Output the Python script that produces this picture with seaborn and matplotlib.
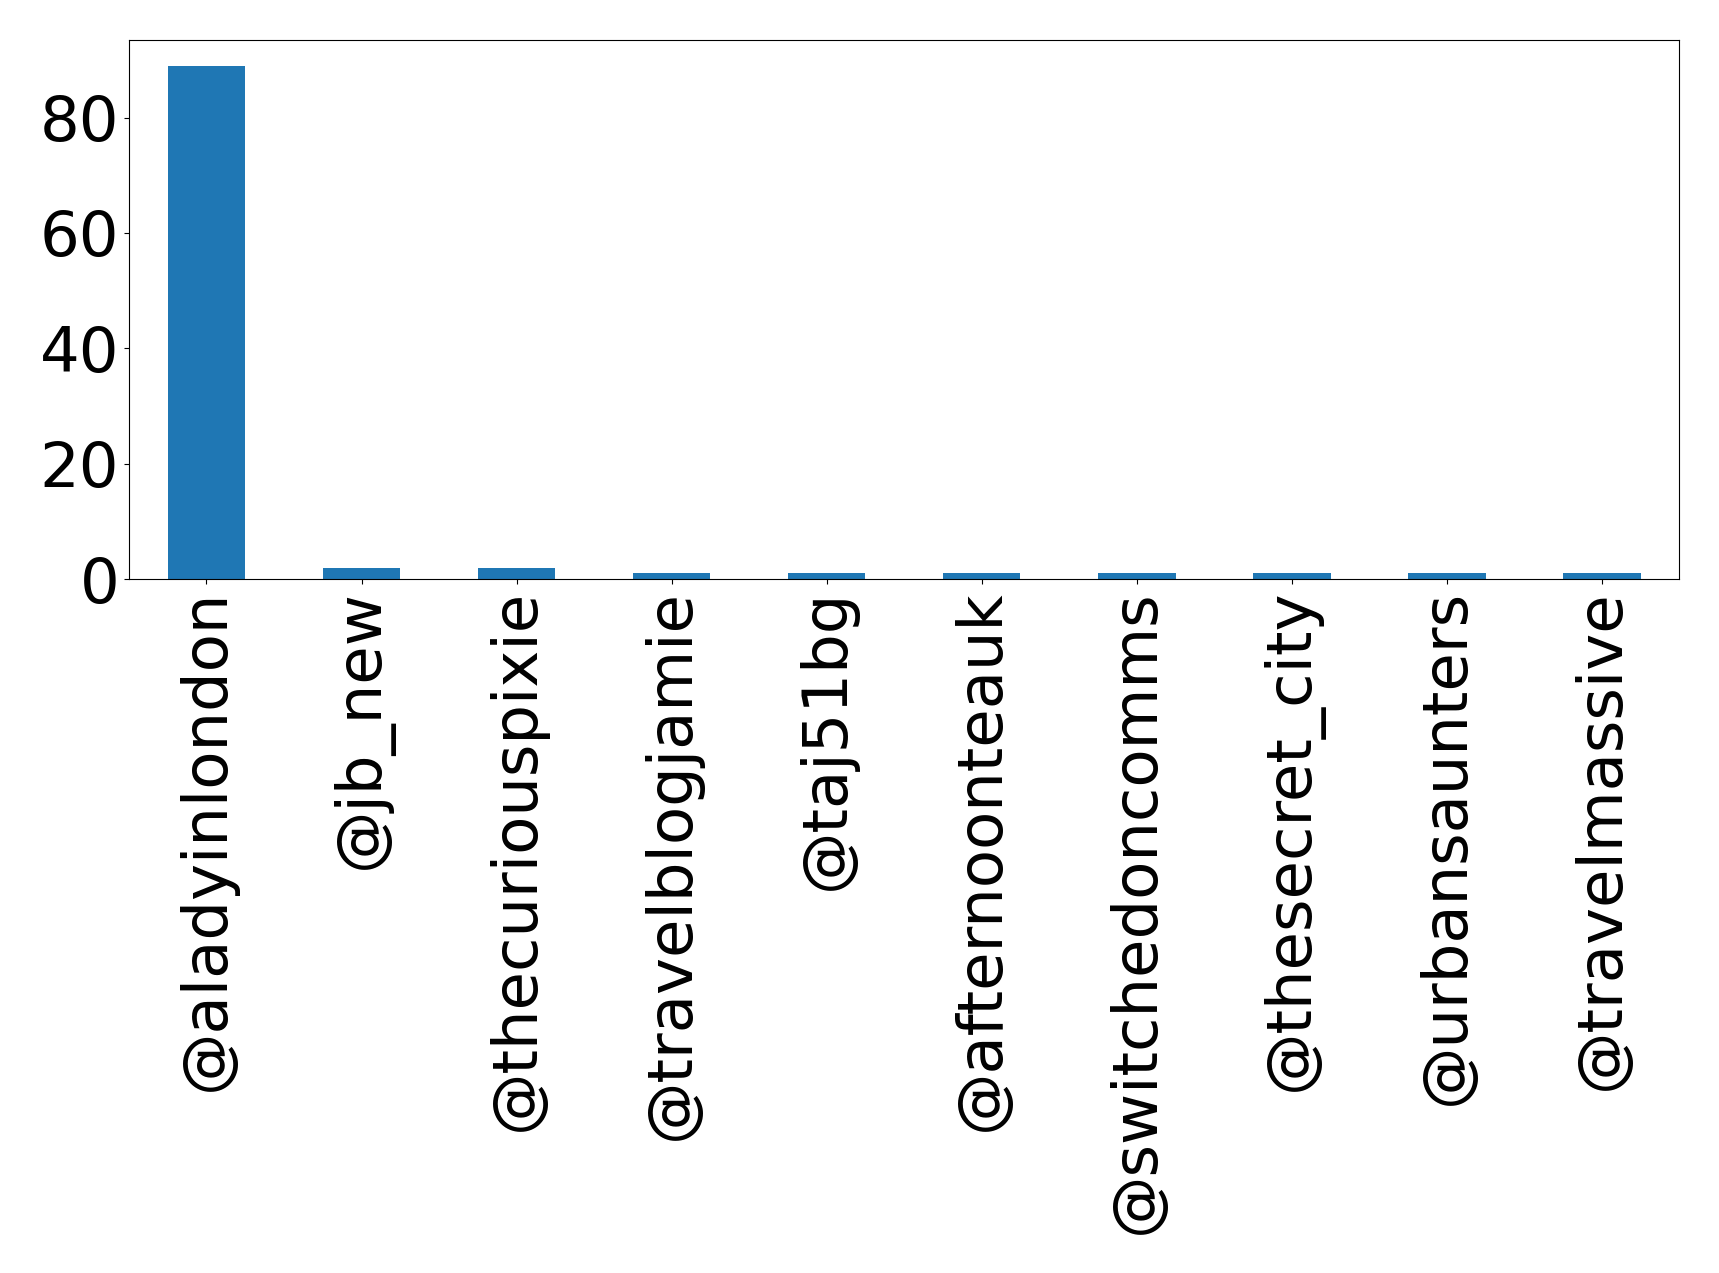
import pandas as pd
import matplotlib
matplotlib.use("Agg")
import matplotlib.pyplot as plt
from matplotlib.ticker import MultipleLocator
import seaborn as sns

# ---- data
handles = [
    "@aladyinlondon", "@jb_new", "@thecuriouspixie", "@travelblogjamie",
    "@taj51bg", "@afternoonteauk", "@switchedoncomms", "@thesecret_city",
    "@urbansaunters", "@travelmassive",
]
counts = [89, 2, 2, 1, 1, 1, 1, 1, 1, 1]

df = pd.DataFrame({"handle": handles, "count": counts})

# ---- plot
fig, ax = plt.subplots(figsize=(17.19, 12.73), dpi=100)
fig.subplots_adjust(left=0.075, right=0.977, top=0.9686, bottom=0.545)

sns.barplot(data=df, x="handle", y="count", color="#1f77b4",
            saturation=1, width=0.5, ax=ax)

ax.set_xlim(-0.5, len(handles) - 0.5)
ax.yaxis.set_major_locator(MultipleLocator(20))
ax.set_xlabel("")
ax.set_ylabel("")
ax.tick_params(axis="both", labelsize=45)
ax.tick_params(axis="x", labelrotation=90)

fig.savefig("out.png", dpi=100)
